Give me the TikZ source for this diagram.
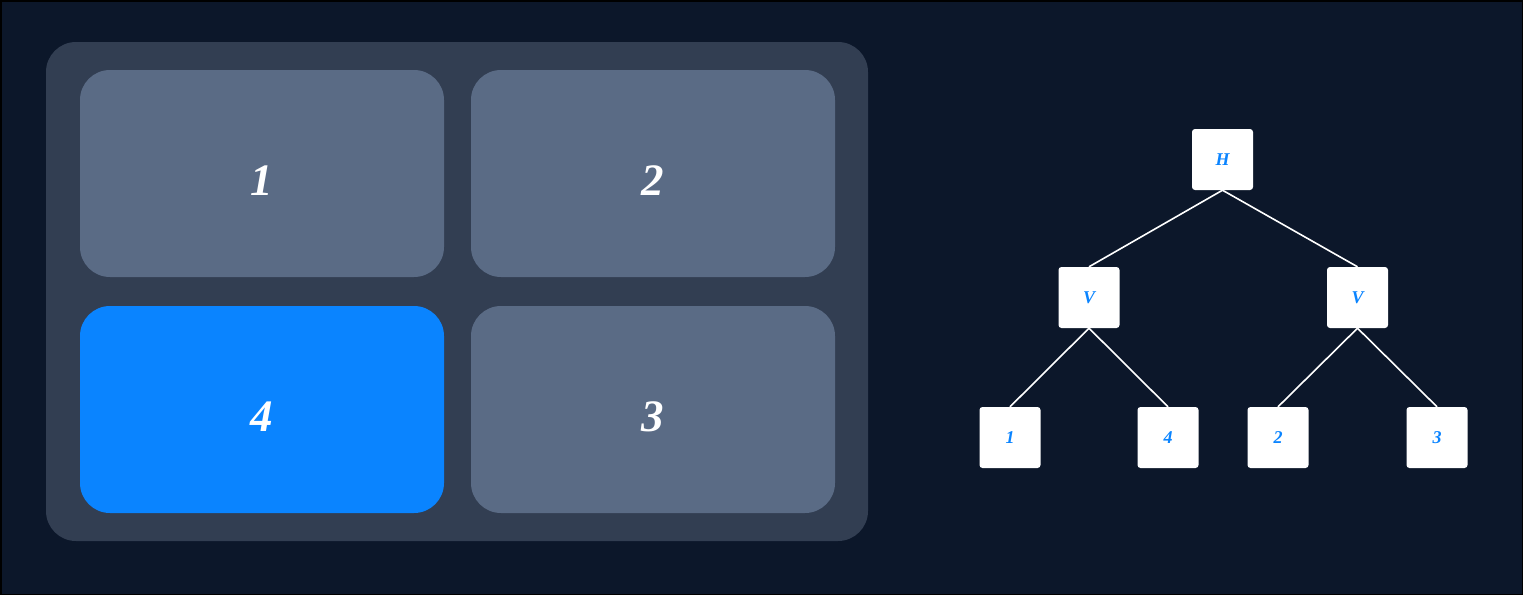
\documentclass[tikz,border=0pt]{standalone}
\usepackage{fontspec}
\setmainfont{Liberation Serif}
\definecolor{bgc}{HTML}{0C172A}
\definecolor{panelc}{HTML}{323E52}
\definecolor{cardc}{HTML}{5A6B85}
\definecolor{bluec}{HTML}{0A84FF}
\begin{document}
\begin{tikzpicture}[x=1pt,y=-1pt,
  cardtxt/.style={text=white, font=\fontsize{45}{50}\selectfont\bfseries\itshape},
  tnode/.style={fill=white, rounded corners=3pt, minimum width=61pt, minimum height=61pt, inner sep=0pt, text=bluec, font=\fontsize{18}{20}\selectfont\bfseries\itshape},
  edge/.style={draw=white, line width=1.6pt}]
\fill[bgc] (0,0) rectangle (1523,595);
\draw[black, line width=1.5pt] (0.75,0.75) rectangle (1522.25,594.25);
\useasboundingbox (0,0) rectangle (1523,595);
\fill[panelc, rounded corners=30pt] (46,42) rectangle (868,541);
\fill[cardc, rounded corners=30pt] (80,70) rectangle (444,277);
\fill[cardc, rounded corners=30pt] (471,70) rectangle (835,277);
\fill[bluec, rounded corners=30pt] (80,306) rectangle (444,513);
\fill[cardc, rounded corners=30pt] (471,306) rectangle (835,513);
\node[cardtxt] (c1) at (262,181) {1};
\node[cardtxt] (c2) at (653,181) {2};
\node[cardtxt] (c4) at (262,417) {4};
\node[cardtxt] (c3) at (653,417) {3};
\node[tnode] (h) at (1222.5,159.5) {H};
\node[tnode] (vl) at (1089,297.5) {V};
\node[tnode] (vr) at (1357.5,297.5) {V};
\node[tnode] (l1) at (1010,437.5) {1};
\node[tnode] (l4) at (1168,437.5) {4};
\node[tnode] (l2) at (1278,437.5) {2};
\node[tnode] (l3) at (1437,437.5) {3};
\draw[edge] (h.south) -- (vl.north);
\draw[edge] (h.south) -- (vr.north);
\draw[edge] (vl.south) -- (l1.north);
\draw[edge] (vl.south) -- (l4.north);
\draw[edge] (vr.south) -- (l2.north);
\draw[edge] (vr.south) -- (l3.north);
\end{tikzpicture}
\end{document}
